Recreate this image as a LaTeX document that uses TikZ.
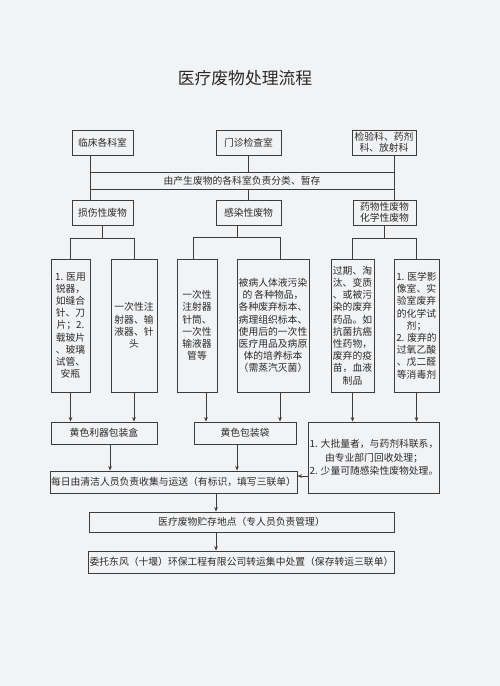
\documentclass[tikz,border=0pt]{standalone}
\usepackage{fontspec}
\setmainfont{Noto Sans CJK SC}
\usepackage{xcolor}
\definecolor{mwpaper}{HTML}{F2F3F5}
\definecolor{mwline}{HTML}{3C3C3C}
\definecolor{mwtext}{HTML}{2A2A2A}
\usepackage{tikz}
\usetikzlibrary{arrows.meta,positioning,calc}

\begin{document}
\begin{tikzpicture}[x=1pt,y=-1pt,
  flowbox/.style={draw=mwline, line width=0.8pt, inner sep=1pt,
                  align=center, text=mwtext,
                  font=\fontsize{9.8}{11.4}\selectfont},
  tallbox/.style={flowbox, minimum height=133pt,
                  font=\fontsize{9.8}{12.2}\selectfont},
  link/.style={draw=mwline, line width=0.8pt},
  arr/.style={link, -{Stealth[length=4.5pt,width=3.6pt]}}
]
\fill[mwpaper] (0,0) rectangle (500,686);
\node[font=\fontsize{16.8}{17}\selectfont, text=mwtext] (title) at (245,78) {医疗废物处理流程};

%% Departments
\node[flowbox, minimum width=61pt, minimum height=25pt] (src1) at (102.5,142.5) {临床各科室};
\node[flowbox, minimum width=65pt, minimum height=25pt] (src2) at (248.5,142.5) {门诊检查室};
\node[flowbox, minimum width=64pt, minimum height=25pt] (src3) at (384,142.5) {检验科、药剂\\科、放射科};

\node[flowbox, minimum width=304pt, minimum height=17pt] (band) at (242,180.5) {由产生废物的各科室负责分类、暂存};

%% Waste kinds
\node[flowbox, minimum width=61pt, minimum height=25pt] (sharp) at (102.5,212.5) {损伤性废物};
\node[flowbox, minimum width=65pt, minimum height=25pt] (infect) at (248.5,212.5) {感染性废物};
\node[flowbox, minimum width=63pt, minimum height=25pt] (chem) at (384.5,212.5) {药物性废物\\化学性废物};

\node[tallbox, minimum width=39pt] (b1) at (70.5,325.5)
  {1. 医用\\锐器，\\如缝合\\针、刀\\片；2.\\载玻片\\、玻璃\\试管、\\安瓶};
\node[tallbox, minimum width=46pt] (b2) at (134,325.5)
  {一次性注\\射器、输\\液器、针\\头};
\node[tallbox, minimum width=40pt] (b3) at (197,325.5)
  {一次性\\注射器\\针筒、\\一次性\\输液器\\管等};
\node[tallbox, minimum width=72pt] (b4) at (273,325.5)
  {被病人体液污染\\的\ 各种物品，\\各种废弃标本、\\病理组织标本、\\使用后的一次性\\医疗用品及病原\\体的培养标本\\（需蒸汽灭菌）};
\node[tallbox, minimum width=43pt] (b5) at (352.5,325.5)
  {过期、淘\\汰、变质\\、或被污\\染的废弃\\药品。如\\抗菌抗癌\\性药物，\\废弃的疫\\苗，血液\\制品};
\node[tallbox, minimum width=45pt] (b6) at (416.5,325.5)
  {1. 医学影\\像室、实\\验室废弃\\的化学试\\剂；\\2. 废弃的\\过氧乙酸\\、戊二醛\\等消毒剂};

%% Packing and handling
\node[flowbox, minimum width=106pt, minimum height=22pt] (sharpbox) at (104,433) {黄色利器包装盒};
\node[flowbox, minimum width=102pt, minimum height=22pt] (bagbox) at (245,433) {黄色包装袋};
\node[flowbox, minimum width=130pt, minimum height=71pt,
      font=\fontsize{9.8}{13.5}\selectfont] (chemnote) at (374,457.5)
  {1. 大批量者，与药剂科联系，\\由专业部门回收处理；\\2. 少量可随感染性废物处理。};
\node[flowbox, minimum width=245pt, minimum height=22pt] (collect) at (173.5,482)
  {每日由清洁人员负责收集与运送（有标识，填写三联单）};
\node[flowbox, minimum width=305pt, minimum height=20pt] (store) at (241.5,522)
  {医疗废物贮存地点（专人员负责管理）};
\node[flowbox, minimum width=305pt, minimum height=22pt] (dispose) at (241.5,562)
  {委托东风（十堰）环保工程有限公司转运集中处置（保存转运三联单）};

%% Sources to sorting
\draw[link] ([xshift=-12.5pt]src1.south) -- ([xshift=-12.5pt]sharp.north);
\draw[link] (src2.south) -- (src2.south |- band.north);
\draw[link] (band.south -| infect.north) -- (infect.north);
\draw[link] ([xshift=10pt]src3.south) -- ([xshift=10pt]src3.south |- chem.north);

%% Forks
\draw[link] (sharp.south) -- ++(0,12.5) coordinate (f1);
\draw[link] (b1.north) |- (f1) -| (b2.north);
\draw[link] ([xshift=-11.5pt]infect.south) -- ++(0,12) coordinate (f2);
\draw[link] ([xshift=-4pt]b3.north) |- (f2) -| ([xshift=7pt]b4.north);
\draw[link] (chem.south) -- ++(0,12.5) coordinate (f3);
\draw[link] (b5.north) |- (f3) -| (b6.north);

%% Into containers
\draw[arr] (b1.south) -- (b1.south |- sharpbox.north);
\draw[arr] (b2.south) -- (b2.south |- sharpbox.north);
\draw[arr] ([xshift=9pt]b3.south) -- ([xshift=9pt]b3.south |- bagbox.north);
\draw[arr] ([xshift=7pt]b4.south) -- ([xshift=7pt]b4.south |- bagbox.north);
\draw[arr] (b5.south) -- (b5.south |- chemnote.north);
\draw[arr] (b6.south) -- (b6.south |- chemnote.north);

%% Collection and disposal
\draw[arr] ([xshift=6pt]sharpbox.south) -- ([xshift=6pt]sharpbox.south |- collect.north);
\draw[arr] ([xshift=-8pt]bagbox.south) -- ([xshift=-8pt]bagbox.south |- collect.north);
\draw[arr] ([yshift=6pt]chemnote.west |- collect.east) -- ([yshift=6pt]collect.east);
\draw[arr] ([xshift=-25.5pt]store.north |- collect.south) -- ([xshift=-25.5pt]store.north);
\draw[arr] ([xshift=-25.5pt]store.south) -- ([xshift=-25.5pt]dispose.north);

\end{tikzpicture}
\end{document}
